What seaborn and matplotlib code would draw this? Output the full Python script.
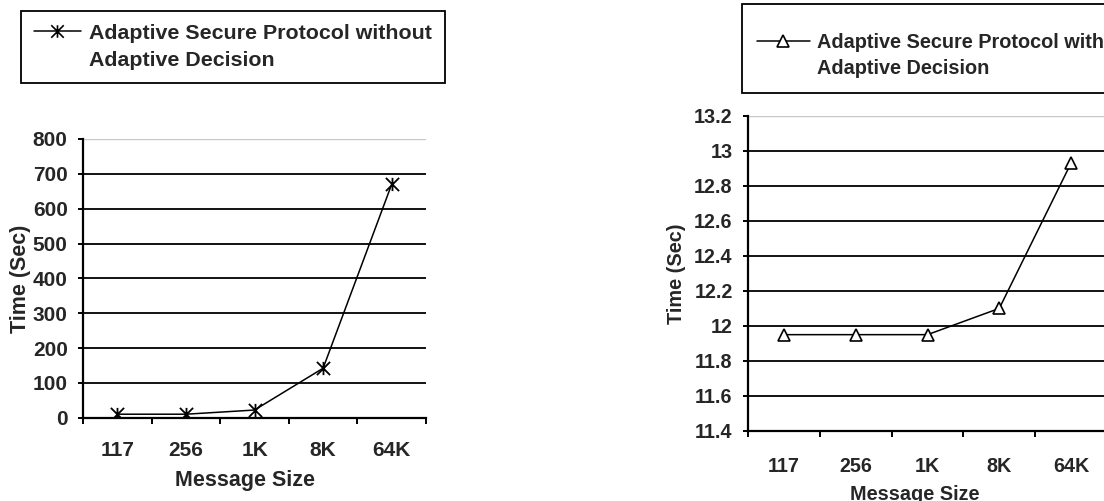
import matplotlib
matplotlib.use("Agg")
import matplotlib.pyplot as plt
from matplotlib.path import Path
from matplotlib.lines import Line2D
import seaborn as sns
import numpy as np

# ---- data ----
message_sizes = ["117", "256", "1K", "8K", "64K"]
time_without = [10, 10, 22, 142, 670]
time_with = [11.95, 11.95, 11.95, 12.1, 12.93]
label_without = ["Adaptive Secure Protocol without", "Adaptive Decision"]
label_with = ["Adaptive Secure Protocol with", "Adaptive Decision"]
yticks_left = [0, 100, 200, 300, 400, 500, 600, 700, 800]
yticks_right = [11.4, 11.6, 11.8, 12, 12.2, 12.4, 12.6, 12.8, 13, 13.2]
ytick_labels_right = ["11.4", "11.6", "11.8", "12", "12.2", "12.4", "12.6", "12.8", "13", "13.2"]

sns.set_style("white")
plt.rcParams["font.family"] = ["Liberation Sans", "DejaVu Sans"]
plt.rcParams["font.weight"] = "bold"
plt.rcParams["axes.labelweight"] = "bold"

W, H = 1104, 501
fig = plt.figure(figsize=(W / 100, H / 100), dpi=100)

star = Path([(0, -1), (0, 1), (-1, -1), (1, 1), (-1, 1), (1, -1)],
            [Path.MOVETO, Path.LINETO, Path.MOVETO, Path.LINETO, Path.MOVETO, Path.LINETO])


def style_axes(ax, yticks, ylabels, ylim, label_x, ylabel_x, ax_h_px, fs_tick, fs_label, xpad):
    ax.set_xlim(-0.5, len(message_sizes) - 0.5)
    ax.set_ylim(*ylim)
    ax.set_yticks(yticks)
    ax.set_yticklabels(ylabels, fontsize=fs_tick, fontweight="bold")
    ax.set_xticks(range(len(message_sizes)))
    ax.set_xticklabels(message_sizes, fontsize=fs_tick, fontweight="bold")
    ax.set_xticks(np.arange(-0.5, len(message_sizes), 1.0), minor=True)
    ax.tick_params(axis="x", which="major", length=0, pad=xpad)
    ax.tick_params(axis="x", which="minor", length=4.5, width=1.4, color="black", direction="out", bottom=True)
    ax.tick_params(axis="y", which="major", length=3.5, width=1.4, color="black", direction="out", left=True, pad=7.5)
    for s in ["top", "right"]:
        ax.spines[s].set_visible(False)
    for s in ["left", "bottom"]:
        ax.spines[s].set_color("black")
        ax.spines[s].set_linewidth(1.6)
    ax.yaxis.grid(True, color="black", linewidth=1.3)
    ax.xaxis.grid(False)
    ax.set_axisbelow(True)
    gl = ax.get_ygridlines()
    gl[-1].set_color("#c8c8c8")
    gl[-1].set_linewidth(1.0)
    ax.set_xlabel("Message Size", fontsize=fs_label, fontweight="bold")
    ax.set_ylabel("Time (Sec)", fontsize=fs_label, fontweight="bold")
    ax.xaxis.set_label_coords(label_x, -63 / ax_h_px)
    ax.xaxis.label.set_va("center")
    ax.yaxis.set_label_coords(ylabel_x, 0.5)
    ax.yaxis.label.set_va("center")


# left axes
axL = fig.add_axes([83 / W, 1 - 417.7 / H, 343 / W, 278.7 / H])
sns.lineplot(x=message_sizes, y=time_without, ax=axL, sort=False, color="black",
             linewidth=1.1, marker=star, markersize=9.5, markeredgewidth=1.3,
             markeredgecolor="black")
style_axes(axL, yticks_left, [str(v) for v in yticks_left], (0, 800), 0.472, -62 / 343,
           278.7, 15, 15.5, 17)

# right axes (extends slightly beyond figure edge)
axR = fig.add_axes([748 / W, 1 - 431 / H, 359 / W, 315.3 / H])
sns.lineplot(x=message_sizes, y=time_with, ax=axR, sort=False, color="black",
             linewidth=1.1, marker="^", markersize=8.5, markeredgewidth=1.2,
             markerfacecolor="white", markeredgecolor="black")
style_axes(axR, yticks_right, ytick_labels_right, (11.4, 13.2), 0.465, -71 / 359,
           315.3, 14.2, 14.3, 18.5)


def make_legend(marker, ms, mfc, labels, anchor, fs, borderpad, handlelength, textpad,
                spacing, title=None):
    h1 = Line2D([], [], color="black", linewidth=1.1, marker=marker, markersize=ms,
                markerfacecolor=mfc, markeredgecolor="black", markeredgewidth=1.2)
    h2 = Line2D([], [], color="none", linewidth=0)
    kw = {}
    if title is not None:
        kw = dict(title=title, title_fontsize=5)
    leg = fig.legend([h1, h2], labels, loc="upper left", bbox_to_anchor=anchor,
                     bbox_transform=fig.transFigure, borderaxespad=0, frameon=True,
                     fancybox=False, shadow=False, handlelength=handlelength,
                     handletextpad=textpad, borderpad=borderpad, labelspacing=spacing,
                     prop={"family": "Liberation Sans", "weight": "bold", "size": fs}, **kw)
    leg._legend_box.align = "left"
    fr = leg.get_frame()
    fr.set_edgecolor("black")
    fr.set_linewidth(1.3)
    fr.set_facecolor("white")
    fr.set_alpha(1)
    return leg


make_legend(star, 9, "black", label_without, (21 / W, 1 - 11 / H), 15.4, 0.6, 2.2, 0.37, 0.4)
make_legend("^", 8.5, "white", label_with, (742 / W, 1 - 4 / H), 14.3, 0.75, 2.66, 0.35, 0.35,
            title=" ")

fig.savefig("out.png", dpi=100)
